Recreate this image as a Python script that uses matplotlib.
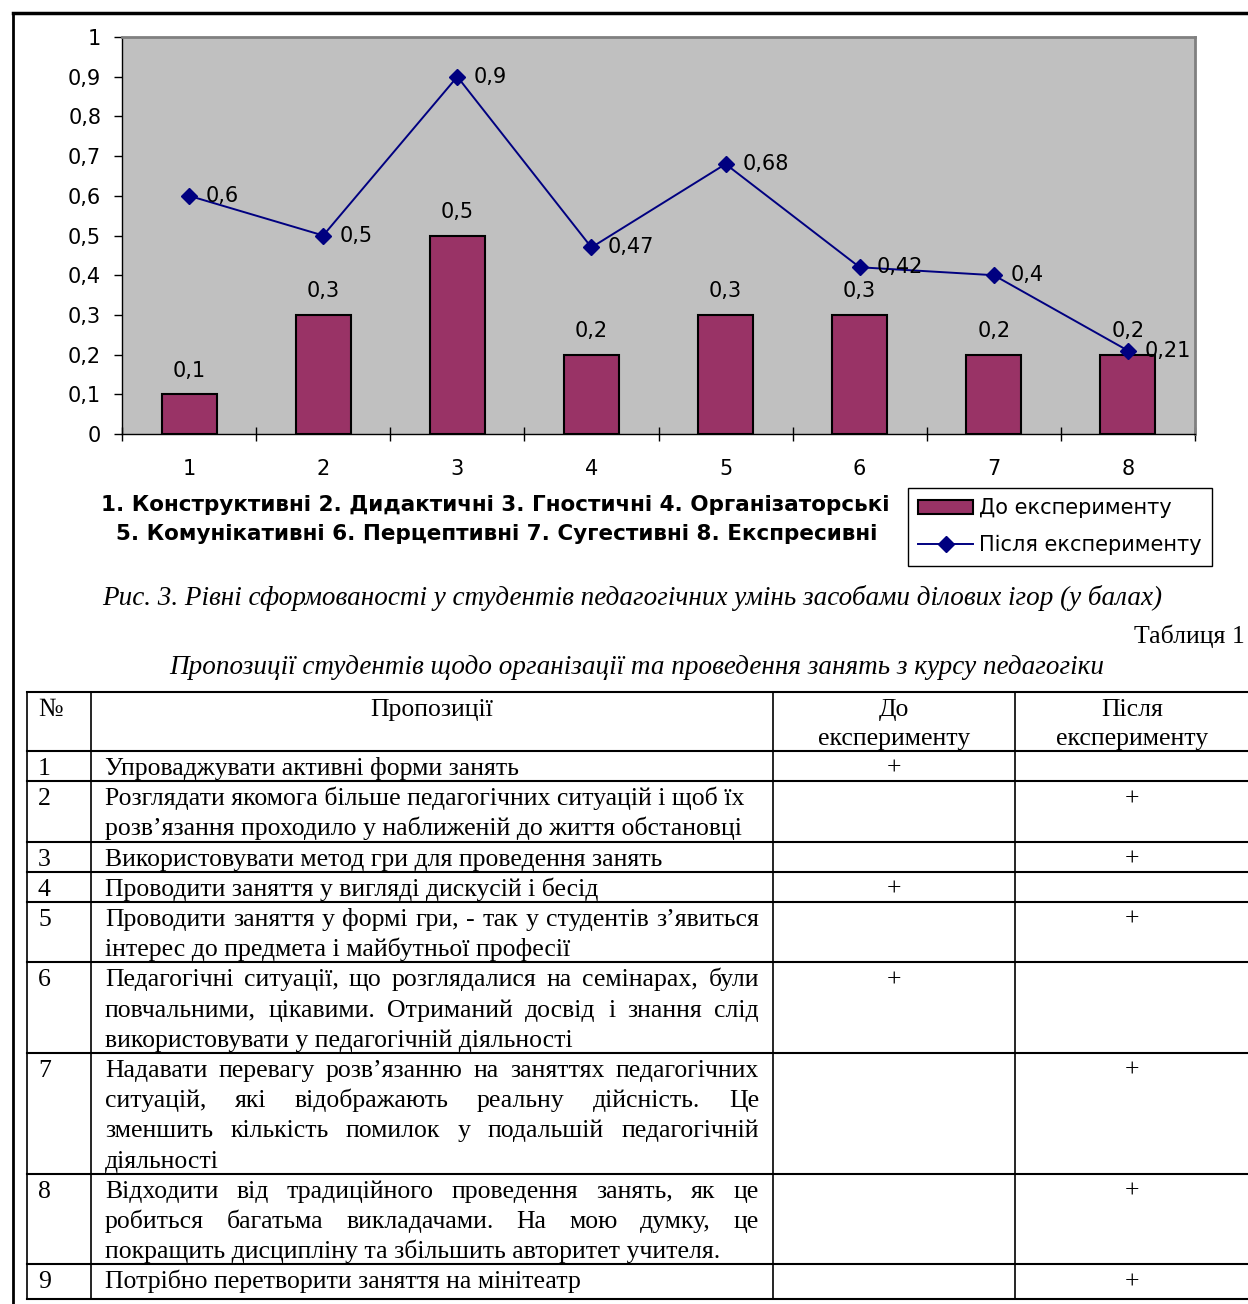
import matplotlib
matplotlib.use('Agg')
import matplotlib.pyplot as plt
from matplotlib.font_manager import FontProperties

# chart data
categories = [1, 2, 3, 4, 5, 6, 7, 8]
before = [0.1, 0.3, 0.5, 0.2, 0.3, 0.3, 0.2, 0.2]
after = [0.6, 0.5, 0.9, 0.47, 0.68, 0.42, 0.4, 0.21]
skill_names = ['Конструктивні', 'Дидактичні', 'Гностичні', 'Організаторські',
               'Комунікативні', 'Перцептивні', 'Сугестивні', 'Експресивні']
series_labels = ['До експерименту', 'Після експерименту']
y_ticks = [0, 0.1, 0.2, 0.3, 0.4, 0.5, 0.6, 0.7, 0.8, 0.9, 1]

caption = 'Рис. 3. Рівні сформованості у студентів педагогічних умінь засобами ділових ігор (у балах)'
table_label = 'Таблиця 1'
table_title = 'Пропозиції студентів щодо організації та проведення занять з курсу педагогіки'

# table data
header = ['№', 'Пропозиції', 'До\nексперименту', 'Після\nексперименту']
row_numbers = ['1', '2', '3', '4', '5', '6', '7', '8', '9']
proposals = [
    ['Упроваджувати активні форми занять'],
    ['Розглядати якомога більше педагогічних ситуацій і щоб їх',
     'розв’язання проходило у наближеній до життя обстановці'],
    ['Використовувати метод гри для проведення занять'],
    ['Проводити заняття у вигляді дискусій і бесід'],
    ['Проводити заняття у формі гри, - так у студентів з’явиться',
     'інтерес до предмета і майбутньої професії'],
    ['Педагогічні ситуації, що розглядалися на семінарах, були',
     'повчальними, цікавими. Отриманий досвід і знання слід',
     'використовувати у педагогічній діяльності'],
    ['Надавати перевагу розв’язанню на заняттях педагогічних',
     'ситуацій, які відображають реальну дійсність. Це',
     'зменшить кількість помилок у подальшій педагогічній',
     'діяльності'],
    ['Відходити від традиційного проведення занять, як це',
     'робиться багатьма викладачами. На мою думку, це',
     'покращить дисципліну та збільшить авторитет учителя.'],
    ['Потрібно перетворити заняття на мінітеатр'],
]
marks_before = ['+', '', '', '+', '', '+', '', '', '']
marks_after = ['', '+', '+', '', '+', '', '+', '+', '+']


def fmt(v):
    return '{:g}'.format(v).replace('.', ',')


W, H = 1248, 1304
fig = plt.figure(figsize=(W / 100, H / 100), dpi=100)

# page-like background axes in pixel units
bg = fig.add_axes([0, 0, 1, 1], zorder=-1)
bg.set_xlim(0, W)
bg.set_ylim(H, 0)
bg.axis('off')

bg.plot([13, 13], [13, H], color='black', lw=2)
bg.plot([13, W], [13, 13], color='black', lw=2.5)

# chart
CF = 15
ax = fig.add_axes([122 / W, 1 - 434 / H, (1195 - 122) / W, (434 - 37) / H])
ax.set_facecolor('#C0C0C0')
bars = ax.bar(categories, before, width=0.41, color='#993366',
              edgecolor='black', linewidth=1.5, zorder=2)
line, = ax.plot(categories, after, color='#000080', marker='D', markersize=8,
                lw=1.4, zorder=3)

for x, v in zip(categories, before):
    ax.annotate(fmt(v), (x, v), xytext=(0, 17), textcoords='offset points',
                ha='center', va='center', fontsize=CF)
for x, v in zip(categories, after):
    ax.annotate(fmt(v), (x, v), xytext=(12, 0), textcoords='offset points',
                ha='left', va='center', fontsize=CF, zorder=4)

ax.set_xlim(0.5, len(categories) + 0.5)
ax.set_ylim(0, 1)
ax.set_yticks(y_ticks)
ax.set_yticklabels([fmt(v) for v in y_ticks], fontsize=CF)
ax.set_xticks(categories)
ax.set_xticklabels([str(c) for c in categories], fontsize=CF)
ax.set_xticks([c - 0.5 for c in categories] + [categories[-1] + 0.5], minor=True)
ax.tick_params(axis='x', which='major', length=0, pad=18)
ax.tick_params(axis='x', which='minor', direction='inout', length=10, width=1)
ax.tick_params(axis='y', direction='out', length=6, width=1, pad=9)
for s in ['top', 'right']:
    ax.spines[s].set_color('#808080')
    ax.spines[s].set_linewidth(2)
for s in ['left', 'bottom']:
    ax.spines[s].set_color('black')
    ax.spines[s].set_linewidth(1)

leg = ax.legend([bars, line], series_labels, loc='upper left',
                bbox_to_anchor=(908 / W, 1 - 488 / H), bbox_transform=fig.transFigure,
                fancybox=False, edgecolor='black', framealpha=1, borderaxespad=0,
                handlelength=2.6, handletextpad=0.3, labelspacing=0.8,
                borderpad=0.5, fontsize=15)
leg.get_frame().set_linewidth(1)

names1 = ' '.join('{}. {}'.format(i, n) for i, n in zip(categories[:4], skill_names[:4]))
names2 = ' '.join('{}. {}'.format(i, n) for i, n in zip(categories[4:], skill_names[4:]))
bg.text(495, 505, names1, ha='center', va='center', fontsize=15.5, fontweight='bold')
bg.text(497, 534, names2, ha='center', va='center', fontsize=15.5, fontweight='bold')

# captions
serif = 'Liberation Serif'
TS = 18.5
IS = 19.5
bg.text(632, 598, caption, ha='center', va='center', family=serif,
        style='italic', fontsize=IS)
bg.text(1245, 636, table_label, ha='right', va='center', family=serif, fontsize=TS)
bg.text(637, 667, table_title, ha='center', va='center', family=serif,
        style='italic', fontsize=IS)

# table
fp = FontProperties(family=serif, size=TS)
renderer = fig.canvas.get_renderer()


def text_w(s):
    w, h, d = renderer.get_text_width_height_descent(s, fp, ismath=False)
    return w


col_x = [27, 91, 773, 1015]
LH = 30.2
top = 692
head_bottom = 750
row_tops = [head_bottom + 1]
for lines in proposals:
    row_tops.append(row_tops[-1] + LH * len(lines))
row_tops[-1] += 4
hlines = [top] + row_tops

for y in hlines:
    bg.plot([col_x[0], W], [y, y], color='black', lw=1.5)
for x in col_x:
    bg.plot([x, x], [top, hlines[-1]], color='black', lw=1.2)

base = 8  # baseline offset from line centre
bg.text(38, top + 16 + base, header[0], ha='left', va='baseline', fontproperties=fp)
bg.text((col_x[1] + col_x[2]) / 2, top + 16 + base, header[1], ha='center',
        va='baseline', fontproperties=fp)
for k, cx in ((2, 894), (3, 1132)):
    for j, part in enumerate(header[k].split('\n')):
        bg.text(cx, top + 16 + j * 29 + base, part, ha='center', va='baseline',
                fontproperties=fp)

x0, x1 = 105, 759
justified_rows = {5, 6, 7, 8}
for i, (num, lines) in enumerate(zip(row_numbers, proposals)):
    ytop = row_tops[i]
    yb = ytop + 16 + base
    bg.text(38, yb, num, ha='left', va='baseline', fontproperties=fp)
    for j, s in enumerate(lines):
        y = yb + j * LH
        if (i + 1) in justified_rows and j < len(lines) - 1:
            words = s.split(' ')
            widths = [text_w(w) for w in words]
            gap = (x1 - x0 - sum(widths)) / (len(words) - 1)
            x = x0
            for wd, ww in zip(words, widths):
                bg.text(x, y, wd, ha='left', va='baseline', fontproperties=fp)
                x += ww + gap
        else:
            bg.text(x0, y, s, ha='left', va='baseline', fontproperties=fp)
    if marks_before[i]:
        bg.text(894, yb, marks_before[i], ha='center', va='baseline', fontproperties=fp)
    if marks_after[i]:
        bg.text(1132, yb, marks_after[i], ha='center', va='baseline', fontproperties=fp)

fig.savefig('out.png', dpi=100)
